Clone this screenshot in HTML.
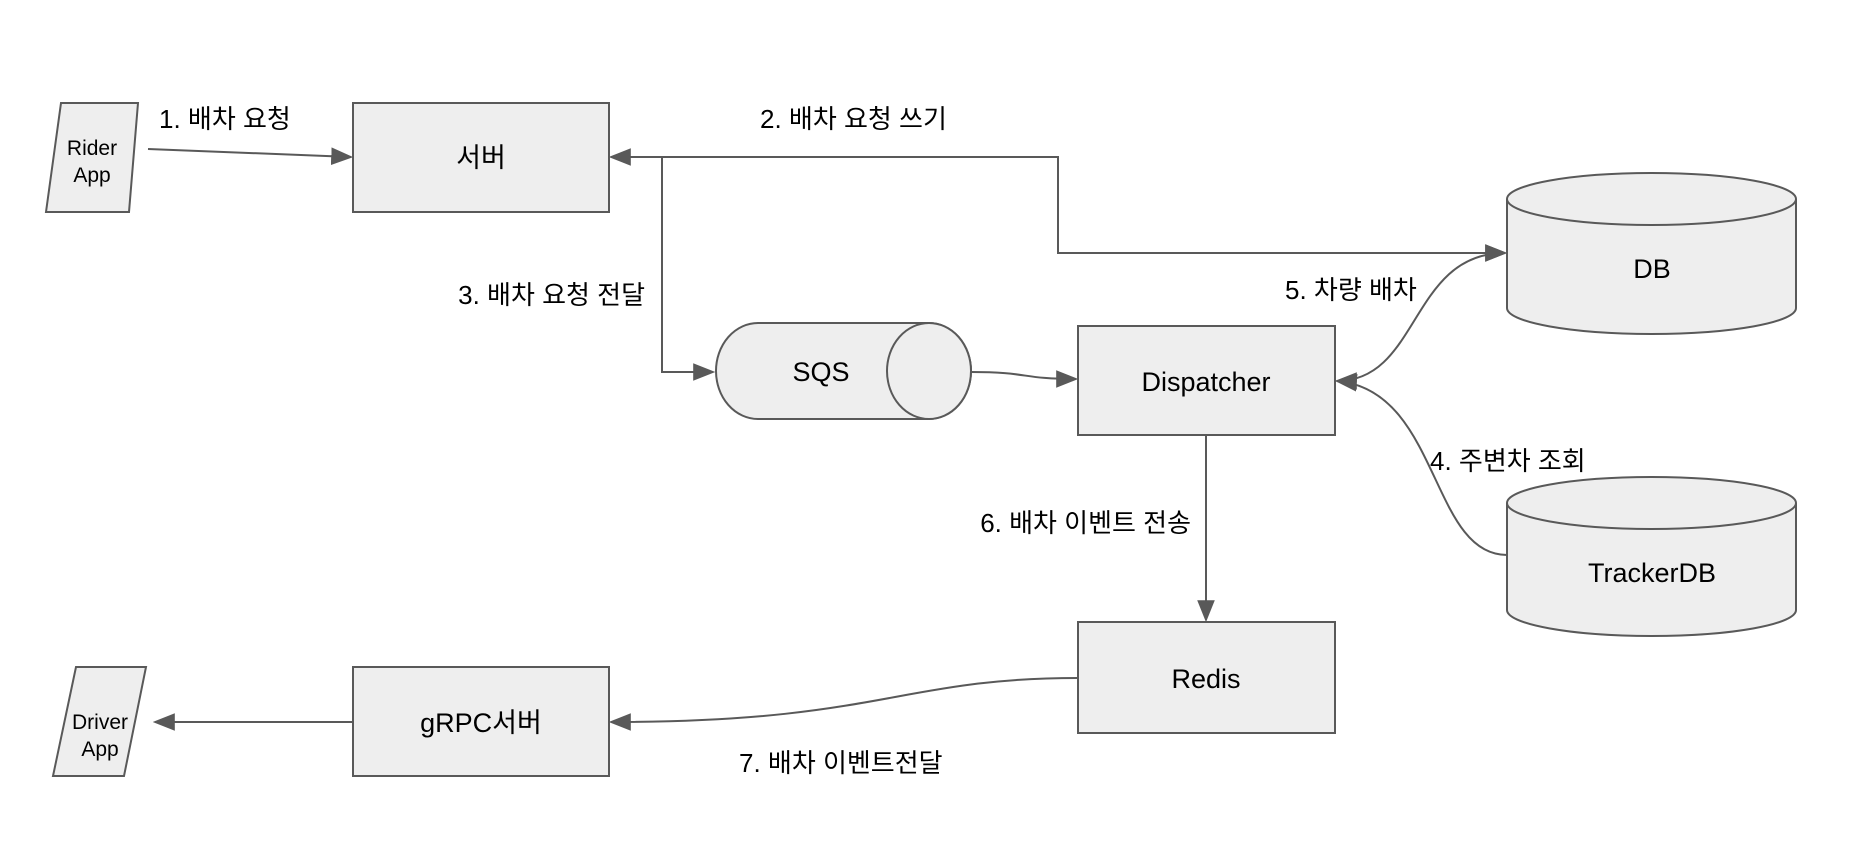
<!DOCTYPE html>
<html><head><meta charset="utf-8"><style>
html,body{margin:0;padding:0;background:#fff;width:1850px;height:846px;overflow:hidden}
text{font-family:"Liberation Sans","Noto Sans CJK KR",sans-serif;fill:#000}
</style></head><body>
<svg width="1850" height="846" viewBox="0 0 1850 846" xmlns="http://www.w3.org/2000/svg">
<defs>
<marker id="b" viewBox="0 0 10 10" refX="9" refY="5" markerWidth="22" markerHeight="22" orient="auto-start-reverse" markerUnits="userSpaceOnUse"><path d="M0,1 L10,5 L0,9 z" fill="#595959"/></marker>
</defs>
<g stroke="#595959" stroke-width="2" fill="#eeeeee">
<polygon points="61,103 138,103 129,212 46,212"/>
<rect x="353" y="103" width="256" height="109"/>
<rect x="1078" y="326" width="257" height="109"/>
<rect x="1078" y="622" width="257" height="111"/>
<rect x="353" y="667" width="256" height="109"/>
<polygon points="76,667 146,667 124,776 53,776"/>
<path d="M758,323 L929,323 A42,48 0 0 1 929,419 L758,419 A42,48 0 0 1 758,323 z"/>
<ellipse cx="929" cy="371" rx="42" ry="48"/>
<path d="M1507,199 A144.5,26 0 0 1 1796,199 L1796,308 A144.5,26 0 0 1 1507,308 z"/>
<path d="M1507,199 A144.5,26 0 0 0 1796,199" fill="none"/>
<path d="M1507,503 A144.5,26 0 0 1 1796,503 L1796,610 A144.5,26 0 0 1 1507,610 z"/>
<path d="M1507,503 A144.5,26 0 0 0 1796,503" fill="none"/>
</g>
<g stroke="#595959" stroke-width="2" fill="none">
<path d="M148,149 L351,157" marker-end="url(#b)"/>
<path d="M1505,253 L1058,253 L1058,157 L611,157" marker-end="url(#b)" marker-start="url(#b)"/>
<path d="M662,157 L662,372 L713,372" marker-end="url(#b)"/>
<path d="M971,372 C1030,372 1020,379 1076,379" marker-end="url(#b)"/>
<path d="M1337,381 C1420,381 1410,253 1505,253" marker-end="url(#b)" marker-start="url(#b)"/>
<path d="M1507,555 C1430,555 1440,390 1337,381" marker-end="url(#b)"/>
<path d="M1206,435 L1206,620" marker-end="url(#b)"/>
<path d="M1078,678 C900,678 880,722 611,722" marker-end="url(#b)"/>
<path d="M353,722 L155,722" marker-end="url(#b)"/>
</g>
<g font-size="21" text-anchor="middle">
<text x="92" y="155">Rider</text><text x="92" y="182">App</text>
<text x="100" y="729">Driver</text><text x="100" y="756">App</text>
</g>
<g font-size="27" text-anchor="middle">
<text x="481" y="167">서버</text>
<text x="821" y="381">SQS</text>
<text x="1206" y="391">Dispatcher</text>
<text x="1206" y="688">Redis</text>
<text x="481" y="732">gRPC서버</text>
<text x="1652" y="278">DB</text>
<text x="1652" y="582">TrackerDB</text>
</g>
<g font-size="26">
<text x="159" y="128">1. 배차 요청</text>
<text x="760" y="128">2. 배차 요청 쓰기</text>
<text x="645" y="304" text-anchor="end">3. 배차 요청 전달</text>
<text x="1285" y="299">5. 차량 배차</text>
<text x="1430" y="470">4. 주변차 조회</text>
<text x="1191" y="532" text-anchor="end">6. 배차 이벤트 전송</text>
<text x="739" y="772">7. 배차 이벤트전달</text>
</g>
</svg>
</body></html>
